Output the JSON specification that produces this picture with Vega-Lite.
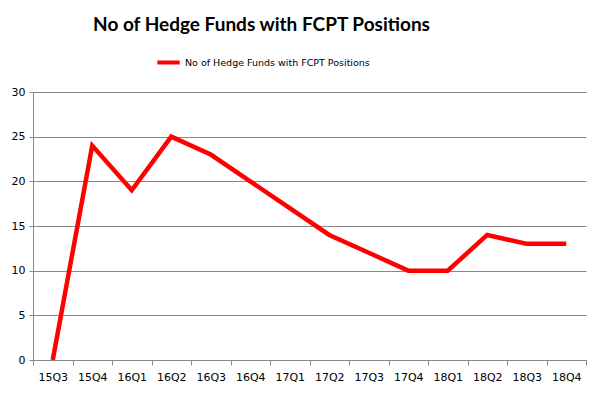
{
  "$schema": "https://vega.github.io/schema/vega-lite/v6.json",
  "width": 553,
  "height": 268,
  "autosize": {"type": "none"},
  "padding": {"left": 33, "top": 92, "right": 15, "bottom": 36},
  "background": "white",
  "title": {
    "text": "No of Hedge Funds with FCPT Positions",
    "font": "Lato",
    "fontSize": 19,
    "fontWeight": "bold",
    "color": "#000000",
    "anchor": "middle",
    "dx": -48,
    "offset": 14
  },
  "data": {
    "values": [
      {"q": "15Q3", "v": 0, "s": "No of Hedge Funds with FCPT Positions"},
      {"q": "15Q4", "v": 24, "s": "No of Hedge Funds with FCPT Positions"},
      {"q": "16Q1", "v": 19, "s": "No of Hedge Funds with FCPT Positions"},
      {"q": "16Q2", "v": 25, "s": "No of Hedge Funds with FCPT Positions"},
      {"q": "16Q3", "v": 23, "s": "No of Hedge Funds with FCPT Positions"},
      {"q": "16Q4", "v": 20, "s": "No of Hedge Funds with FCPT Positions"},
      {"q": "17Q1", "v": 17, "s": "No of Hedge Funds with FCPT Positions"},
      {"q": "17Q2", "v": 14, "s": "No of Hedge Funds with FCPT Positions"},
      {"q": "17Q3", "v": 12, "s": "No of Hedge Funds with FCPT Positions"},
      {"q": "17Q4", "v": 10, "s": "No of Hedge Funds with FCPT Positions"},
      {"q": "18Q1", "v": 10, "s": "No of Hedge Funds with FCPT Positions"},
      {"q": "18Q2", "v": 14, "s": "No of Hedge Funds with FCPT Positions"},
      {"q": "18Q3", "v": 13, "s": "No of Hedge Funds with FCPT Positions"},
      {"q": "18Q4", "v": 13, "s": "No of Hedge Funds with FCPT Positions"}
    ]
  },
  "mark": {"type": "line", "strokeWidth": 4.5, "strokeJoin": "miter", "strokeCap": "butt"},
  "encoding": {
    "x": {
      "field": "q",
      "type": "ordinal",
      "scale": {"type": "band", "paddingInner": 0, "paddingOuter": 0},
      "axis": {
        "title": null,
        "labelAngle": 0,
        "tickBand": "extent",
        "grid": false,
        "domainColor": "#888888",
        "tickColor": "#888888",
        "tickSize": 5,
        "labelFont": "DejaVu Sans",
        "labelFontSize": 11,
        "labelColor": "#000000",
        "labelPadding": 6
      }
    },
    "y": {
      "field": "v",
      "type": "quantitative",
      "scale": {"domain": [0, 30]},
      "axis": {
        "title": null,
        "values": [0, 5, 10, 15, 20, 25, 30],
        "grid": true,
        "gridColor": "#888888",
        "domainColor": "#888888",
        "tickColor": "#888888",
        "tickSize": 4,
        "labelFont": "DejaVu Sans",
        "labelFontSize": 11,
        "labelColor": "#000000",
        "labelPadding": 4
      }
    },
    "color": {
      "field": "s",
      "type": "nominal",
      "scale": {"range": ["#ff0000"]},
      "legend": {
        "title": null,
        "orient": "none",
        "legendX": 122,
        "legendY": -43,
        "direction": "horizontal",
        "symbolType": "stroke",
        "symbolStrokeWidth": 4,
        "symbolSize": 500,
        "labelLimit": 0,
        "labelFont": "DejaVu Sans",
        "labelFontSize": 9.5,
        "labelColor": "#000000",
        "labelOffset": 3
      }
    }
  },
  "config": {"view": {"stroke": null}}
}
